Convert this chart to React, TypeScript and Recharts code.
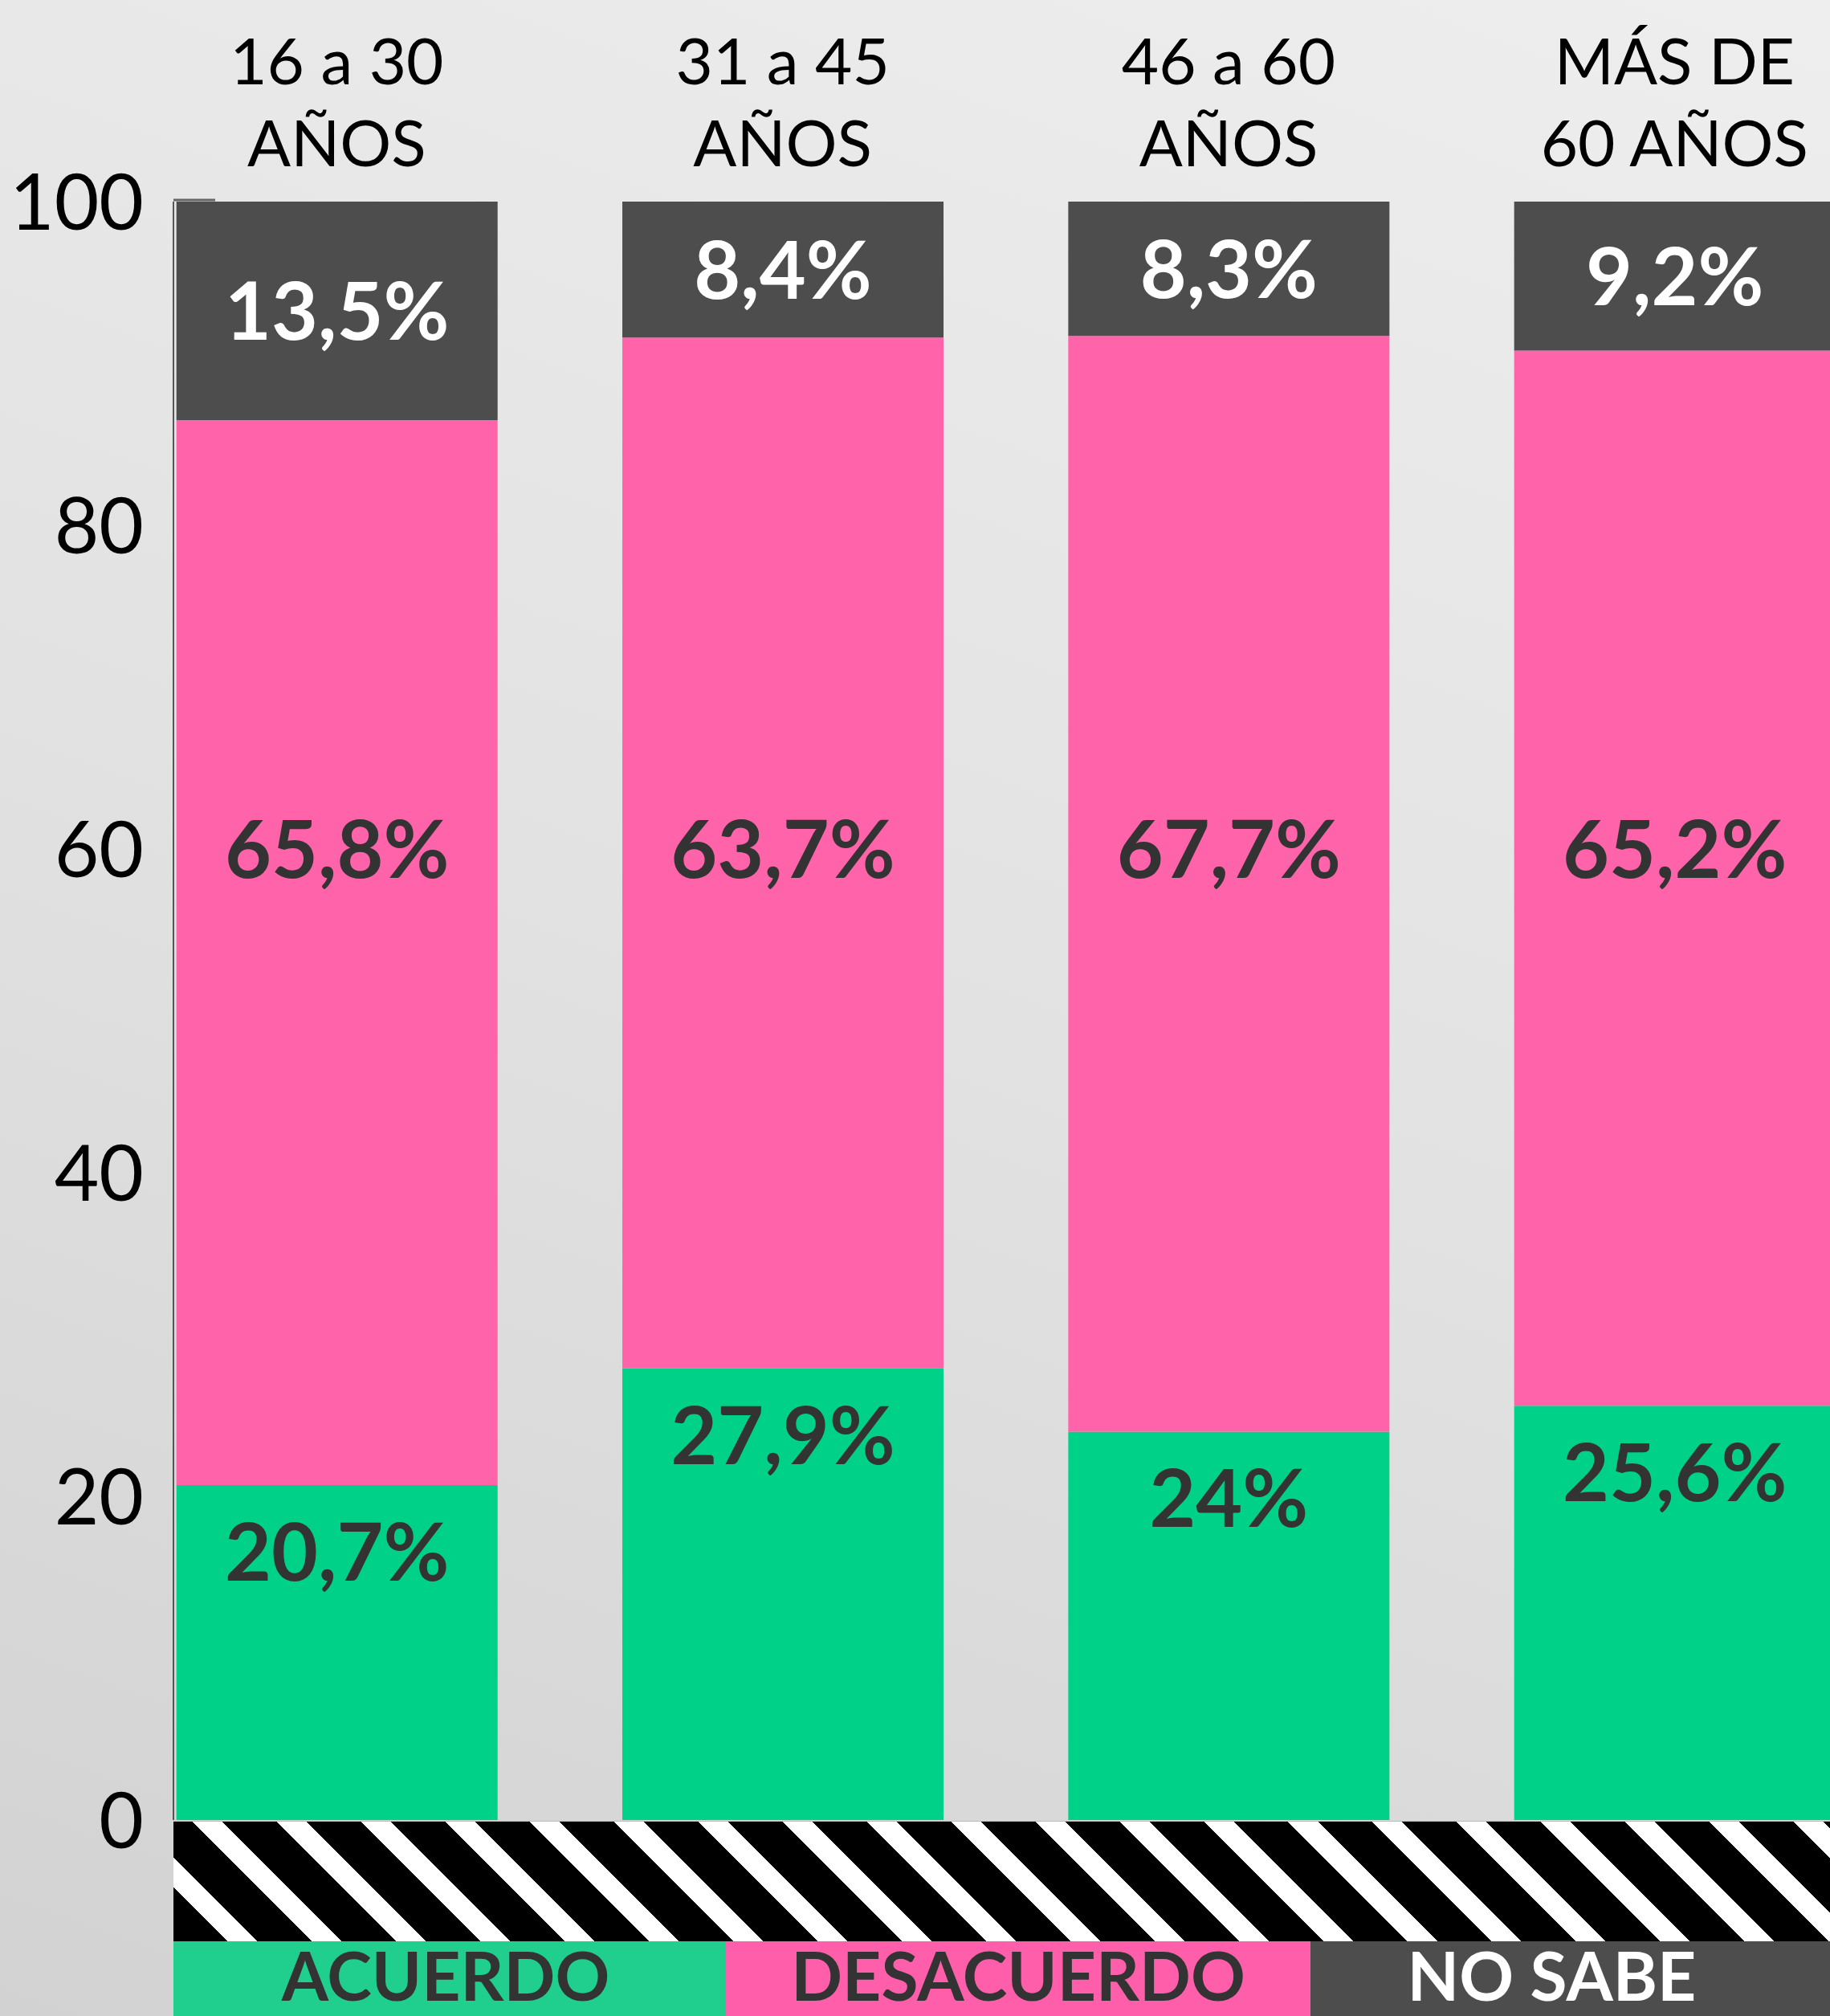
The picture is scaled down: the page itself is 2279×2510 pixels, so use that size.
import { BarChart, Bar, XAxis, YAxis, LabelList } from "recharts"

// Grupos de edad (dos líneas por etiqueta)
const CATEGORIES = ["16 a 30\nAÑOS", "31 a 45\nAÑOS", "46 a 60\nAÑOS", "MÁS DE\n60 AÑOS"]
const ACUERDO = [20.7, 27.9, 24, 25.6]
const DESACUERDO = [65.8, 63.7, 67.7, 65.2]
const NO_SABE = [13.5, 8.4, 8.3, 9.2]
const Y_TICKS = [0, 20, 40, 60, 80, 100]
const LEGEND_LABELS = ["ACUERDO", "DESACUERDO", "NO SABE"]

const GREEN = "#00d188"
const PINK = "#ff63a9"
const GRAY = "#4d4d4d"
const DARK_TEXT = "#333333"
const FONT = "Lato, 'Open Sans', sans-serif"

// nivel (en %) donde van las etiquetas de desacuerdo
const DESACUERDO_LABEL_LEVEL = 60

const data = CATEGORIES.map((name, i) => ({
  name,
  acuerdo: ACUERDO[i],
  desacuerdo: DESACUERDO[i],
  noSabe: NO_SABE[i],
}))

const fmt = (v: number) => `${String(v).replace(".", ",")}%`

function box(props: any) {
  const vb = props.viewBox && props.viewBox.width !== undefined ? props.viewBox : props
  return { x: Number(vb.x), y: Number(vb.y), width: Number(vb.width), height: Number(vb.height) }
}

function CategoryTick({ x, y, payload }: any) {
  const lines = String(payload.value).split("\n")
  return (
    <text textAnchor="middle" fontFamily={FONT} fontSize={80} fill="#000">
      {lines.map((line, i) => (
        <tspan key={i} x={x} y={y - 146 + i * 102}>
          {line}
        </tspan>
      ))}
    </text>
  )
}

// las marcas del eje quedan tapadas por las barras, sólo asoma la de arriba
function ValueTick({ x, y, payload }: any) {
  const top = payload.value === Y_TICKS[Y_TICKS.length - 1]
  return (
    <g>
      {top && <line x1={x + 37} x2={x + 89} y1={y - 2} y2={y - 2} stroke="#666" strokeWidth={3} />}
      <text x={x} y={y + 35} textAnchor="end" fontFamily={FONT} fontWeight={400} fontSize={96} fill="#000">
        {payload.value}
      </text>
    </g>
  )
}

const acuerdoLabel = (props: any) => {
  const { x, y, width } = box(props)
  return (
    <text x={x + width / 2} y={y + 83 + 36} textAnchor="middle" fontFamily={FONT} fontWeight={700} fontSize={100} fill={DARK_TEXT}>
      {fmt(props.value)}
    </text>
  )
}

const desacuerdoLabel = (props: any) => {
  const { x, y, width, height } = box(props)
  const i = props.index
  const level = y + height - ((DESACUERDO_LABEL_LEVEL - ACUERDO[i]) * height) / DESACUERDO[i]
  return (
    <text x={x + width / 2} y={level + 36} textAnchor="middle" fontFamily={FONT} fontWeight={700} fontSize={100} fill={DARK_TEXT}>
      {fmt(props.value)}
    </text>
  )
}

const noSabeLabel = (props: any) => {
  const { x, y, width, height } = box(props)
  return (
    <text x={x + width / 2} y={y + height / 2 + 36} textAnchor="middle" fontFamily={FONT} fontWeight={700} fontSize={100} fill="#fff">
      {fmt(props.value)}
    </text>
  )
}

export default function App() {
  const legendColors = ["#20cf8e", "#ff5faa", GRAY]
  const legendText = [DARK_TEXT, DARK_TEXT, "#fff"]
  const legendWidths = [688, 728, 647]
  const legendPadRight = [10, 0, 46]

  return (
    <div
      style={{
        position: "relative",
        width: 2279,
        height: 2510,
        overflow: "hidden",
        background: "linear-gradient(200deg, #eeeeee 0%, #e2e2e2 50%, #d2d2d2 100%)",
      }}
    >
      <style>{`body{margin:0}`}</style>
      <BarChart width={2279} height={2510} data={data} margin={{ top: 0, right: 0, bottom: 244, left: 0 }}>
        <XAxis
          dataKey="name"
          orientation="top"
          height={251}
          axisLine={false}
          tickLine={false}
          tickSize={0}
          tickMargin={0}
          interval={0}
          padding={{ left: -74.3, right: -84 }}
          tick={<CategoryTick />}
        />
        <YAxis
          domain={[0, 100]}
          ticks={Y_TICKS}
          width={216}
          axisLine={{ stroke: "#555", strokeWidth: 2 }}
          tickLine={false}
          tickSize={0}
          tickMargin={37}
          tick={<ValueTick />}
        />
        <Bar dataKey="acuerdo" stackId="a" fill={GREEN} barSize={400} isAnimationActive={false}>
          <LabelList dataKey="acuerdo" content={acuerdoLabel} />
        </Bar>
        <Bar dataKey="desacuerdo" stackId="a" fill={PINK} barSize={400} isAnimationActive={false}>
          <LabelList dataKey="desacuerdo" content={desacuerdoLabel} />
        </Bar>
        <Bar dataKey="noSabe" stackId="a" fill={GRAY} barSize={400} isAnimationActive={false}>
          <LabelList dataKey="noSabe" content={noSabeLabel} />
        </Bar>
      </BarChart>

      {/* franja rayada bajo el eje */}
      <div
        style={{
          position: "absolute",
          left: 216,
          top: 2267,
          width: 2063,
          height: 150,
          background: "repeating-linear-gradient(45deg, #000 0px, #000 48px, #fff 48px, #fff 74.2px)",
          borderTop: "1px solid #bbb",
          boxSizing: "border-box",
        }}
      />

      {/* leyenda */}
      <div style={{ position: "absolute", left: 216, top: 2417, height: 93, display: "flex" }}>
        {LEGEND_LABELS.map((label, i) => (
          <div
            key={label}
            style={{
              width: legendWidths[i],
              height: 93,
              background: legendColors[i],
              color: legendText[i],
              fontFamily: FONT,
              fontWeight: 700,
              fontSize: 84,
              lineHeight: "84px",
              textAlign: "center",
              paddingRight: legendPadRight[i],
              boxSizing: "border-box",
              whiteSpace: "nowrap",
            }}
          >
            {label}
          </div>
        ))}
      </div>
    </div>
  )
}
